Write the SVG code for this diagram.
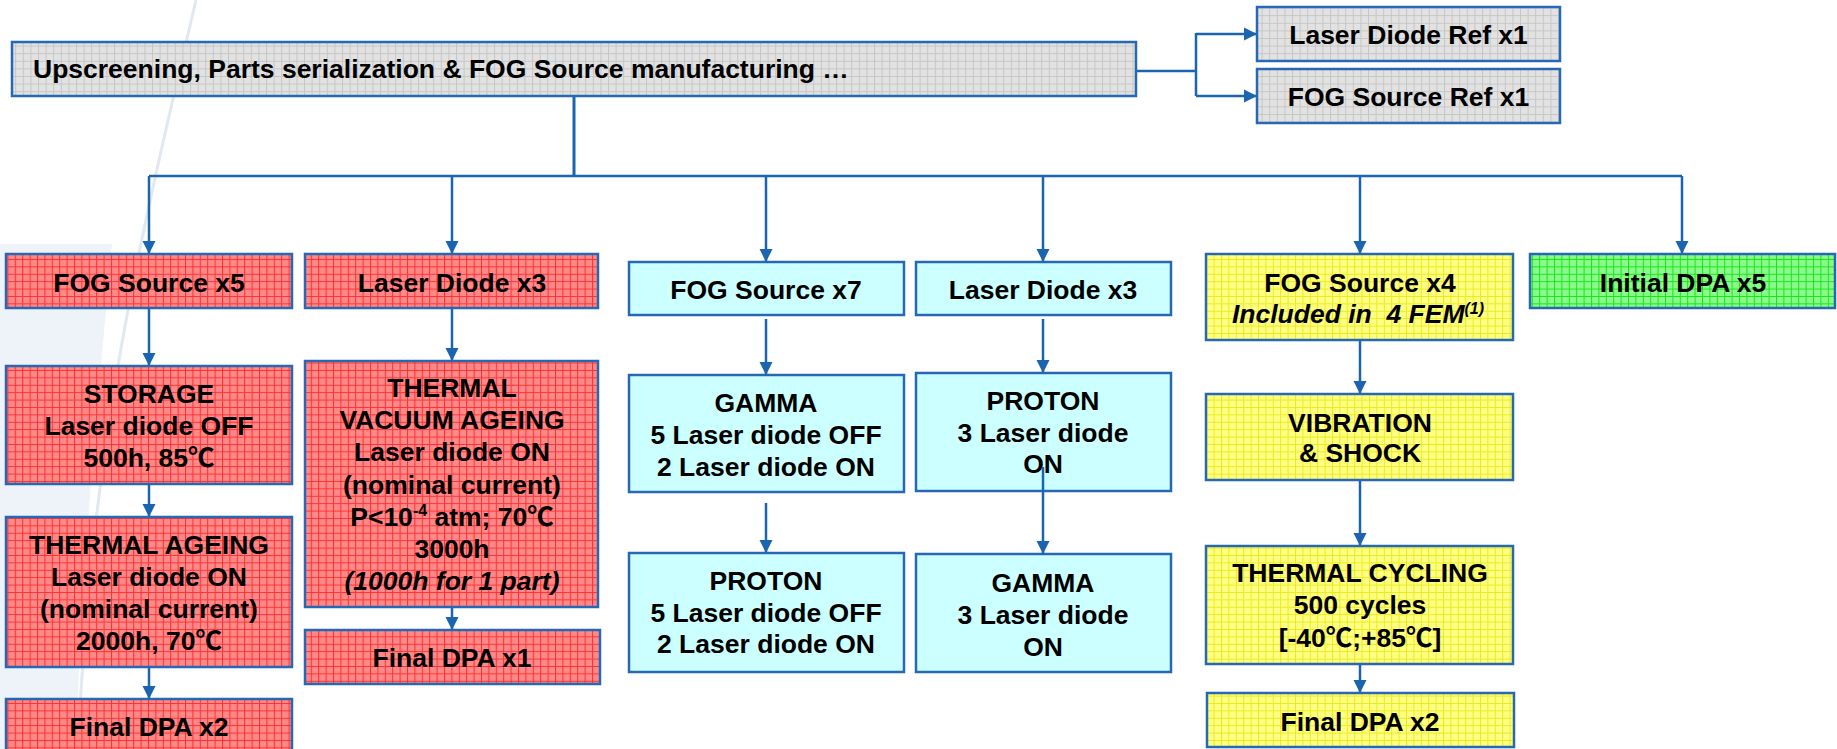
<svg xmlns="http://www.w3.org/2000/svg" width="1837" height="749" viewBox="0 0 1837 749">
  <defs>
    <style>
      .box { stroke: #2668b4; stroke-width: 2.5; }
      .t { font-family: "Liberation Sans", Arial, "Noto Sans CJK SC", sans-serif; font-weight: bold; font-size: 26.5px; fill: #000; text-anchor: middle; }
      .it { font-style: italic; }
      .wire { fill: none; stroke: #1a64b0; stroke-width: 2.5; }
      .arr { fill: none; stroke: #1a64b0; stroke-width: 2.5; marker-end: url(#head); }
    </style>
    <marker id="head" viewBox="0 0 10 10" refX="10" refY="5" markerUnits="userSpaceOnUse" markerWidth="13" markerHeight="14" orient="auto">
      <path d="M0,0 L10,5 L0,10 Z" fill="#1a64b0"/>
    </marker>
    <pattern id="gridGray" patternUnits="userSpaceOnUse" width="7.6" height="7.6">
      <rect width="7.6" height="7.6" fill="#e2e2e2"/>
      <path d="M0,0.5 H7.6 M0.5,0 V7.6" stroke="#c6c6c6" stroke-width="1"/>
    </pattern>
    <pattern id="gridRed" patternUnits="userSpaceOnUse" width="7.4" height="7.4">
      <rect width="7.4" height="7.4" fill="#ff8888"/>
      <path d="M0,0.5 H7.4 M0.5,0 V7.4" stroke="#ff3030" stroke-width="1"/>
    </pattern>
    <pattern id="gridYellow" patternUnits="userSpaceOnUse" width="7.4" height="7.4">
      <rect width="7.4" height="7.4" fill="#ffff84"/>
      <path d="M0,0.5 H7.4 M0.5,0 V7.4" stroke="#eaea1e" stroke-width="1"/>
    </pattern>
    <pattern id="gridGreen" patternUnits="userSpaceOnUse" width="7.4" height="7.4">
      <rect width="7.4" height="7.4" fill="#88fc88"/>
      <path d="M0,0.5 H7.4 M0.5,0 V7.4" stroke="#1ee01e" stroke-width="1"/>
    </pattern>
  </defs>

  <!-- page background with soft swoosh on the left -->
  <rect width="1837" height="749" fill="#ffffff"/>
  <path d="M0,244 L112,244 C98,400 82,560 76,749 L0,749 Z" fill="#eef3f9"/>
  <path d="M196,0 C150,200 92,420 78,749" fill="none" stroke="#e2e8f0" stroke-width="3"/>

  <!-- connectors -->
  <g id="connectors">
    <path class="wire" d="M574,96 V176" style="stroke-width:3"/>
    <path class="wire" d="M149,176 H1682"/>
    <path class="arr" d="M149,176 V254"/>
    <path class="arr" d="M452,176 V254"/>
    <path class="arr" d="M766,176 V262"/>
    <path class="arr" d="M1043,176 V262"/>
    <path class="arr" d="M1360,176 V254"/>
    <path class="arr" d="M1682,176 V254"/>

    <path class="wire" d="M1136,71 H1196 M1196,33 V96"/>
    <path class="arr" d="M1196,34 H1257"/>
    <path class="arr" d="M1196,96 H1257"/>

    <path class="arr" d="M149,308 V366"/>
    <path class="arr" d="M149,484 V517"/>
    <path class="arr" d="M149,667 V699"/>

    <path class="arr" d="M452,308 V361"/>
    <path class="arr" d="M452,607 V630"/>

    <path class="arr" d="M766,319 V375"/>
    <path class="arr" d="M766,503 V553"/>

    <path class="arr" d="M1043,319 V373"/>

    <path class="arr" d="M1360,340 V394"/>
    <path class="arr" d="M1360,480 V546"/>
    <path class="arr" d="M1360,664 V693"/>
  </g>

  <!-- top process -->
  <g id="upscreening">
    <rect class="box" x="12" y="42" width="1124" height="54" fill="url(#gridGray)"/>
    <text class="t" x="33" y="77.5" style="text-anchor:start">Upscreening, Parts serialization &amp; FOG Source manufacturing …</text>
  </g>
  <g id="laser-diode-ref">
    <rect class="box" x="1257" y="7" width="303" height="54" fill="url(#gridGray)"/>
    <text class="t" x="1408.5" y="44">Laser Diode Ref x1</text>
  </g>
  <g id="fog-source-ref">
    <rect class="box" x="1257" y="69" width="303" height="54" fill="url(#gridGray)"/>
    <text class="t" x="1408.5" y="106">FOG Source Ref x1</text>
  </g>

  <!-- red column 1 -->
  <g id="fog-source-x5">
    <rect class="box" x="6" y="254" width="286" height="54" fill="url(#gridRed)"/>
    <text class="t" x="149" y="292">FOG Source x5</text>
  </g>
  <g id="storage">
    <rect class="box" x="6" y="366" width="286" height="118" fill="url(#gridRed)"/>
    <text class="t" x="149" y="403">STORAGE</text>
    <text class="t" x="149" y="435">Laser diode OFF</text>
    <text class="t" x="149" y="467">500h, 85℃</text>
  </g>
  <g id="thermal-ageing">
    <rect class="box" x="6" y="517" width="286" height="150" fill="url(#gridRed)"/>
    <text class="t" x="149" y="554">THERMAL AGEING</text>
    <text class="t" x="149" y="586">Laser diode ON</text>
    <text class="t" x="149" y="618">(nominal current)</text>
    <text class="t" x="149" y="650">2000h, 70℃</text>
  </g>
  <g id="final-dpa-red-x2">
    <rect class="box" x="6" y="699" width="286" height="56" fill="url(#gridRed)"/>
    <text class="t" x="149" y="736">Final DPA x2</text>
  </g>

  <!-- red column 2 -->
  <g id="laser-diode-x3-red">
    <rect class="box" x="305" y="254" width="293" height="54" fill="url(#gridRed)"/>
    <text class="t" x="452" y="292">Laser Diode x3</text>
  </g>
  <g id="thermal-vacuum-ageing">
    <rect class="box" x="305" y="361" width="293" height="246" fill="url(#gridRed)"/>
    <text class="t" x="452" y="397">THERMAL</text>
    <text class="t" x="452" y="429">VACUUM AGEING</text>
    <text class="t" x="452" y="461">Laser diode ON</text>
    <text class="t" x="452" y="494">(nominal current)</text>
    <text class="t" x="452" y="526">P&lt;10<tspan dy="-10" font-size="16">-4</tspan><tspan dy="10"> atm; 70℃</tspan></text>
    <text class="t" x="452" y="558">3000h</text>
    <text class="t it" x="452" y="590">(1000h for 1 part)</text>
  </g>
  <g id="final-dpa-x1">
    <rect class="box" x="305" y="630" width="295" height="54" fill="url(#gridRed)"/>
    <text class="t" x="452" y="667">Final DPA x1</text>
  </g>

  <!-- cyan column 1 -->
  <g id="fog-source-x7">
    <rect class="box" x="629" y="262" width="275" height="53" fill="#ccffff"/>
    <text class="t" x="766" y="299">FOG Source x7</text>
  </g>
  <g id="gamma-1">
    <rect class="box" x="629" y="375" width="275" height="117" fill="#ccffff"/>
    <text class="t" x="766" y="412">GAMMA</text>
    <text class="t" x="766" y="444">5 Laser diode OFF</text>
    <text class="t" x="766" y="476">2 Laser diode ON</text>
  </g>
  <g id="proton-1">
    <rect class="box" x="629" y="553" width="275" height="119" fill="#ccffff"/>
    <text class="t" x="766" y="590">PROTON</text>
    <text class="t" x="766" y="622">5 Laser diode OFF</text>
    <text class="t" x="766" y="653">2 Laser diode ON</text>
  </g>

  <!-- cyan column 2 -->
  <g id="laser-diode-x3-cyan">
    <rect class="box" x="916" y="262" width="255" height="53" fill="#ccffff"/>
    <text class="t" x="1043" y="299">Laser Diode x3</text>
  </g>
  <g id="proton-2">
    <rect class="box" x="916" y="373" width="255" height="118" fill="#ccffff"/>
    <text class="t" x="1043" y="410">PROTON</text>
    <text class="t" x="1043" y="442">3 Laser diode</text>
    <text class="t" x="1043" y="473">ON</text>
  </g>
  <g id="gamma-2">
    <rect class="box" x="916" y="554" width="255" height="118" fill="#ccffff"/>
    <text class="t" x="1043" y="592">GAMMA</text>
    <text class="t" x="1043" y="624">3 Laser diode</text>
    <text class="t" x="1043" y="656">ON</text>
  </g>
  <!-- this link is drawn over the PROTON box, through its last line -->
  <path class="arr" d="M1043,467 V554"/>

  <!-- yellow column -->
  <g id="fog-source-x4">
    <rect class="box" x="1206" y="254" width="307" height="86" fill="url(#gridYellow)"/>
    <text class="t" x="1360" y="292">FOG Source x4</text>
    <text class="t it" x="1358" y="323" style="white-space:pre">Included in  4 FEM<tspan dy="-9" font-size="16">(1)</tspan></text>
  </g>
  <g id="vibration-shock">
    <rect class="box" x="1206" y="394" width="307" height="86" fill="url(#gridYellow)"/>
    <text class="t" x="1360" y="432">VIBRATION</text>
    <text class="t" x="1360" y="462">&amp; SHOCK</text>
  </g>
  <g id="thermal-cycling">
    <rect class="box" x="1206" y="546" width="307" height="118" fill="url(#gridYellow)"/>
    <text class="t" x="1360" y="582">THERMAL CYCLING</text>
    <text class="t" x="1360" y="614">500 cycles</text>
    <text class="t" x="1360" y="647">[-40℃;+85℃]</text>
  </g>
  <g id="final-dpa-yellow-x2">
    <rect class="box" x="1207" y="693" width="307" height="54" fill="url(#gridYellow)"/>
    <text class="t" x="1360" y="731">Final DPA x2</text>
  </g>

  <!-- green -->
  <g id="initial-dpa-x5">
    <rect class="box" x="1530" y="254" width="305" height="54" fill="url(#gridGreen)"/>
    <text class="t" x="1683" y="292">Initial DPA x5</text>
  </g>
</svg>
